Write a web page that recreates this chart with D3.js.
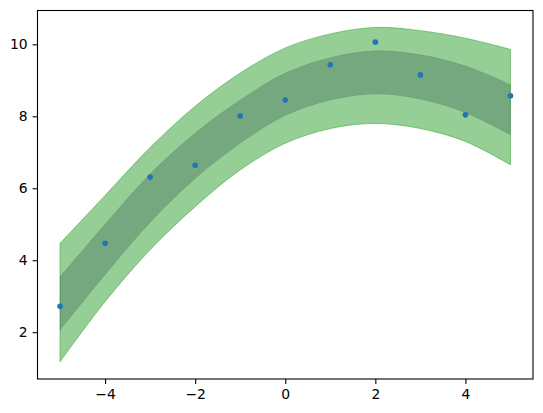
<!DOCTYPE html>
<html>
<head>
<meta charset="utf-8">
<script src="https://cdn.jsdelivr.net/npm/d3@7"></script>
<style>
  body { margin: 0; background: #fff; }
  svg { display: block; font-family: "DejaVu Sans", sans-serif; }
</style>
</head>
<body>
<svg id="drawing_region"></svg>
<script>
// sample positions and observations
const xs = [-5, -4, -3, -2, -1, 0, 1, 2, 3, 4, 5];
const obs = [2.72, 4.47, 6.31, 6.64, 8.01, 8.45, 9.43, 10.06, 9.15, 8.04, 8.57];

// band edges
const outerHi = [4.47, 5.80, 7.13, 8.28, 9.20, 9.90, 10.29, 10.47, 10.38, 10.17, 9.86];
const innerHi = [3.54, 5.00, 6.40, 7.53, 8.45, 9.20, 9.63, 9.82, 9.71, 9.40, 8.88];
const innerLo = [2.06, 3.60, 5.05, 6.27, 7.25, 8.02, 8.45, 8.62, 8.48, 8.10, 7.49];
const outerLo = [1.18, 2.85, 4.29, 5.49, 6.51, 7.25, 7.66, 7.80, 7.66, 7.30, 6.65];

const xTicks = [-4, -2, 0, 2, 4];
const yTicks = [2, 4, 6, 8, 10];

const width = 543, height = 413;
const margin = {top: 10.5, right: 10, bottom: 34, left: 37.5};
const iw = width - margin.left - margin.right;
const ih = height - margin.top - margin.bottom;

const svg = d3.select('#drawing_region')
    .attr('width', width)
    .attr('height', height);

const chart = svg.append('g')
    .attr('transform', `translate(${margin.left}, ${margin.top})`);

const xscale = d3.scaleLinear().domain([-5.5, 5.5]).range([0, iw]);
const yscale = d3.scaleLinear().domain([0.70, 10.94]).range([ih, 0]);

const rows = xs.map((x, i) => ({
    x: x, oh: outerHi[i], ih: innerHi[i], il: innerLo[i], ol: outerLo[i]
}));

const outerArea = d3.area()
    .x(d => xscale(d.x))
    .y0(d => yscale(d.ol))
    .y1(d => yscale(d.oh))
    .curve(d3.curveCatmullRom);

const innerArea = d3.area()
    .x(d => xscale(d.x))
    .y0(d => yscale(d.il))
    .y1(d => yscale(d.ih))
    .curve(d3.curveCatmullRom);

chart.append('path')
    .datum(rows)
    .attr('d', outerArea)
    .attr('fill', '#2ca02c')
    .attr('fill-opacity', 0.5)
    .attr('stroke', '#2ca02c')
    .attr('stroke-opacity', 0.5)
    .attr('stroke-width', 1);

chart.append('path')
    .datum(rows)
    .attr('d', innerArea)
    .attr('fill', '#2f4f4f')
    .attr('fill-opacity', 0.3)
    .attr('stroke', '#2f4f4f')
    .attr('stroke-opacity', 0.15)
    .attr('stroke-width', 1);

chart.selectAll('circle')
    .data(xs)
    .enter()
    .append('circle')
    .attr('cx', d => xscale(d))
    .attr('cy', (d, i) => yscale(obs[i]))
    .attr('r', 2.8)
    .attr('fill', '#1f77b4');

const fmt = d => d < 0 ? '\u2212' + Math.abs(d) : String(d);

const xaxis = d3.axisBottom(xscale)
    .tickValues(xTicks)
    .tickFormat(fmt)
    .tickSize(4.9)
    .tickPadding(4.9)
    .tickSizeOuter(0);

const yaxis = d3.axisLeft(yscale)
    .tickValues(yTicks)
    .tickFormat(fmt)
    .tickSize(4.9)
    .tickPadding(4.9)
    .tickSizeOuter(0);

const xg = chart.append('g')
    .attr('transform', `translate(0, ${ih})`)
    .call(xaxis);
const yg = chart.append('g').call(yaxis);

[xg, yg].forEach(g => {
    g.select('.domain').remove();
    g.selectAll('line').attr('stroke', '#000').attr('stroke-width', 1.1);
    g.selectAll('text')
        .attr('fill', '#000')
        .style('font-family', '"DejaVu Sans", sans-serif')
        .style('font-size', '13.9px');
});

chart.append('rect')
    .attr('x', 0)
    .attr('y', 0)
    .attr('width', iw)
    .attr('height', ih)
    .attr('fill', 'none')
    .attr('stroke', '#000')
    .attr('stroke-width', 1.1);
</script>
</body>
</html>
